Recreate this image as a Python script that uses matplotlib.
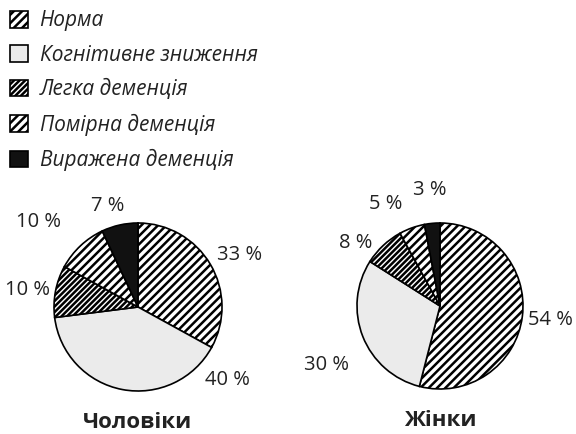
import matplotlib.pyplot as plt
from matplotlib.patches import Patch

categories = ['Норма', 'Когнітивне зниження', 'Легка деменція',
              'Помірна деменція', 'Виражена деменція']
men = [33, 40, 10, 10, 7]
women = [54, 30, 8, 5, 3]
groups = ['Чоловіки', 'Жінки']

# fill style per category
faces = ['white', '#ebebeb', 'white', 'white', '#111111']
hatches = ['////', None, '//////', '////', None]

# label positions (in pie radius units), in category order
men_label_pos = [(1.21, 0.62), (1.07, -0.87), (-1.32, 0.20), (-1.19, 1.01), (-0.36, 1.20)]
women_label_pos = [(1.33, -0.17), (-1.37, -0.71), (-1.02, 0.76), (-0.66, 1.23), (-0.12, 1.40)]

plt.rcParams['font.family'] = ['Open Sans', 'DejaVu Sans']
plt.rcParams['hatch.linewidth'] = 1.8

W, H = 576, 434
fig = plt.figure(figsize=(W / 100, H / 100), dpi=100)


def pie_axes(cx, cy, r):
    return fig.add_axes([(cx - r) / W, (H - cy - r) / H, 2 * r / W, 2 * r / H])


def draw_pie(ax, values, label_pos, title):
    wedges, _ = ax.pie(values, startangle=90, counterclock=False, radius=1,
                       colors=faces,
                       wedgeprops=dict(edgecolor='black', linewidth=1.2))
    for w, h in zip(wedges, hatches):
        if h:
            w.set_hatch(h)
    for v, (x, y) in zip(values, label_pos):
        ax.text(x, y, f'{v} %', ha='center', va='center', fontsize=14.5,
                color='#222222')
    ax.text(0, -1.38, title, ha='center', va='center', fontsize=16,
            fontweight='bold', color='#222222')
    ax.set_xlim(-1, 1)
    ax.set_ylim(-1, 1)
    ax.set_aspect('equal')
    ax.axis('off')


ax1 = pie_axes(138, 307, 84)
draw_pie(ax1, men, men_label_pos, groups[0])
ax2 = pie_axes(440, 306, 83)
draw_pie(ax2, women, women_label_pos, groups[1])

handles = [Patch(facecolor=f, edgecolor='black', hatch=h, linewidth=1.2)
           for f, h in zip(faces, hatches)]
leg = fig.legend(handles, categories, loc='upper left', bbox_to_anchor=(0.0, 1.0),
                 frameon=False, handlelength=0.85, handleheight=0.85,
                 handletextpad=0.55, labelspacing=0.64, borderaxespad=0.0,
                 borderpad=0.5,
                 prop=dict(size=15, style='italic'))
for t in leg.get_texts():
    t.set_color('#222222')

fig.savefig('out.png', dpi=100)
